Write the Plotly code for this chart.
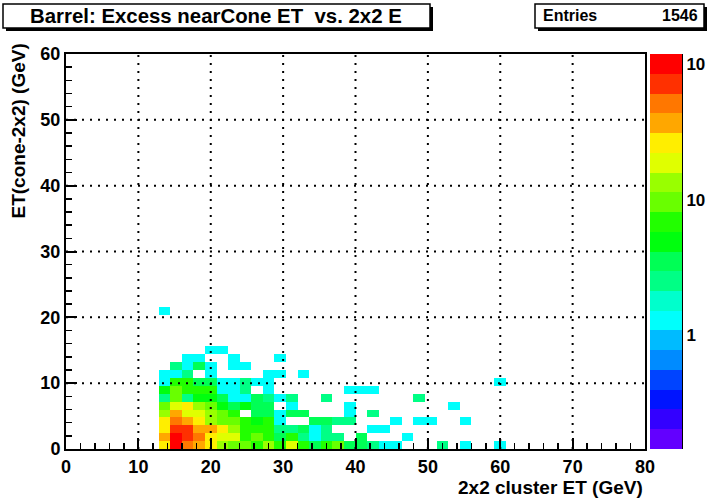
import numpy as np
import plotly.graph_objects as go

W, H = 711, 500

# ---- histogram binning (TH2: 50 x 50 bins) ----
x_lo, x_hi, n_x = 0, 80, 50
y_lo, y_hi, n_y = 0, 60, 50
first_col = 8          # first x bin index listed in the row arrays below

# ---- bin contents, one list per y bin (x bins 8..39) ----
row_00 = [25, 95, 48, 35, 25, 13, 9, 9, 7, 13, 7, 18, 7, 3, 7, 9, 3, 3, 2, 1, 1, 0, 0, 0, 2, 0, 1, 0, 0, 1, 0, 0]
row_01 = [35, 95, 68, 48, 25, 18, 18, 7, 8, 7, 3, 7, 2, 1, 2, 2, 0, 3, 0, 0, 0, 1, 0, 0, 0, 0, 0, 0, 0, 0, 0, 0]
row_02 = [25, 68, 68, 35, 35, 25, 13, 7, 7, 7, 2, 2, 3, 1, 2, 0, 0, 0, 1, 1, 0, 0, 0, 0, 0, 0, 0, 0, 0, 0, 0, 0]
row_03 = [25, 48, 35, 25, 13, 9, 9, 7, 5, 7, 1, 0, 0, 3, 3, 2, 2, 0, 0, 0, 1, 0, 1, 1, 0, 0, 1, 0, 0, 0, 0, 0]
row_04 = [13, 35, 18, 18, 13, 9, 7, 0, 3, 3, 1, 3, 3, 0, 0, 0, 1, 0, 2, 0, 0, 0, 0, 0, 0, 0, 0, 0, 0, 0, 0, 0]
row_05 = [9, 18, 25, 13, 9, 5, 3, 5, 3, 3, 0, 1, 0, 0, 0, 0, 1, 0, 0, 0, 0, 0, 0, 0, 0, 1, 0, 0, 0, 0, 0, 0]
row_06 = [2, 9, 2, 5, 5, 3, 1, 1, 3, 2, 1, 2, 0, 0, 2, 0, 0, 0, 0, 0, 0, 0, 2, 0, 0, 0, 0, 0, 0, 0, 0, 0]
row_07 = [5, 9, 7, 7, 7, 1, 1, 2, 0, 1, 0, 0, 0, 0, 0, 0, 1, 1, 1, 0, 0, 0, 0, 0, 0, 0, 0, 0, 0, 0, 0, 0]
row_08 = [1, 7, 7, 3, 3, 1, 1, 2, 1, 1, 0, 0, 0, 0, 0, 0, 0, 0, 0, 0, 0, 0, 0, 0, 0, 0, 0, 0, 0, 1, 0, 0]
row_09 = [1, 1, 2, 0, 1, 0, 0, 0, 0, 1, 1, 0, 1, 0, 0, 0, 0, 0, 0, 0, 0, 0, 0, 0, 0, 0, 0, 0, 0, 0, 0, 0]
row_10 = [0, 2, 1, 3, 1, 0, 1, 1, 0, 0, 0, 0, 0, 0, 0, 0, 0, 0, 0, 0, 0, 0, 0, 0, 0, 0, 0, 0, 0, 0, 0, 0]
row_11 = [0, 0, 1, 1, 0, 0, 1, 0, 0, 0, 1, 0, 0, 0, 0, 0, 0, 0, 0, 0, 0, 0, 0, 0, 0, 0, 0, 0, 0, 0, 0, 0]
row_12 = [0, 0, 0, 0, 1, 1, 0, 0, 0, 0, 0, 0, 0, 0, 0, 0, 0, 0, 0, 0, 0, 0, 0, 0, 0, 0, 0, 0, 0, 0, 0, 0]
row_17 = [1, 0, 0, 0, 0, 0, 0, 0, 0, 0, 0, 0, 0, 0, 0, 0, 0, 0, 0, 0, 0, 0, 0, 0, 0, 0, 0, 0, 0, 0, 0, 0]

rows = {0: row_00, 1: row_01, 2: row_02, 3: row_03, 4: row_04, 5: row_05, 6: row_06,
        7: row_07, 8: row_08, 9: row_09, 10: row_10, 11: row_11, 12: row_12, 17: row_17}

# ---- text ----
title_text = "Barrel: Excess nearCone ET\u00a0\u00a0vs. 2x2 E"
entries_label = "Entries"
entries_value = "1546"
x_title = "2x2 cluster ET (GeV)"
y_title = "ET(cone-2x2) (GeV)"
x_ticks = [0, 10, 20, 30, 40, 50, 60, 70, 80]
y_ticks = [0, 10, 20, 30, 40, 50, 60]
z_ticks = [1, 10, 100]
z_ticktext = ["1", "10", "10"]
z_minor = [0.2, 0.3, 0.4, 0.5, 0.6, 0.7, 0.8, 0.9, 2, 3, 4, 5, 6, 7, 8, 9,
           20, 30, 40, 50, 60, 70, 80, 90]

# ROOT "pretty palette", 20 contour bands (bottom -> top)
band_colors = ["#6300ff", "#3300ff", "#0014ff", "#0044ff", "#008bff", "#00bbff",
               "#00fffc", "#00ffcc", "#00ff85", "#00ff55", "#00ff0e", "#22ff00",
               "#69ff00", "#99ff00", "#e0ff00", "#ffee00", "#ffa700", "#ff7700",
               "#ff3000", "#ff0000"]
z_log_min, band_width = -0.88, 0.146
z_log_max = z_log_min + band_width * len(band_colors)

# ---- assemble histogram ----
z = np.full((n_y, n_x), np.nan)
for j, vals in rows.items():
    for k, c in enumerate(vals):
        if c > 0:
            z[j, first_col + k] = np.log10(c)
x_edges = np.linspace(x_lo, x_hi, n_x + 1)
y_edges = np.linspace(y_lo, y_hi, n_y + 1)

colorscale = []
nb = len(band_colors)
for i, c in enumerate(band_colors):
    colorscale.append([i / nb, c])
    colorscale.append([(i + 1) / nb, c])

# ---- layout geometry (pixels) ----
L, R, T, B = 66, 28, 54, 51
plot_w = W - L - R
plot_h = H - T - B
frame_right = 645
cbar_left, cbar_right = 650, 682

def px(xp):
    return (xp - L) / plot_w

def py(yp):
    return (H - B - yp) / plot_h

FONT = "Liberation Sans"
black = "black"

fig = go.Figure()
fig.add_trace(go.Heatmap(
    x=x_edges, y=y_edges, z=z,
    zmin=z_log_min, zmax=z_log_max,
    colorscale=colorscale,
    hoverinfo="skip",
    colorbar=dict(
        x=px(cbar_left), xanchor="left", thickness=cbar_right - cbar_left,
        thicknessmode="pixels", len=1, lenmode="fraction", y=0.5, yanchor="middle",
        ypad=0, xpad=0, outlinewidth=0, ticks="", showticklabels=False,
    ),
))
# invisible trace to host the colour-bar axis
fig.add_trace(go.Scatter(x=[None], y=[None], xaxis="x", yaxis="y2",
                         showlegend=False, hoverinfo="skip"))

tick_font = dict(family=FONT, size=18, color=black, weight="bold")

fig.update_layout(
    width=W, height=H, autosize=False,
    margin=dict(l=L, r=R, t=T, b=B, autoexpand=False),
    paper_bgcolor="white", plot_bgcolor="white",
    showlegend=False,
    xaxis=dict(
        domain=[0, px(frame_right)], range=[x_lo, x_hi],
        tickmode="array", tickvals=x_ticks, ticks="inside", ticklen=11, tickwidth=2,
        tickcolor=black, tickfont=tick_font,
        minor=dict(dtick=2, tick0=0, ticks="inside", ticklen=6, tickwidth=1.5, tickcolor=black),
        showgrid=False, zeroline=False, showline=True, mirror=True,
        linecolor=black, linewidth=2, fixedrange=True,
    ),
    yaxis=dict(
        domain=[0, 1], range=[y_lo, y_hi],
        tickmode="array", tickvals=y_ticks, ticks="inside", ticklen=11, tickwidth=2,
        tickcolor=black, tickfont=tick_font,
        minor=dict(dtick=2, tick0=0, ticks="inside", ticklen=6, tickwidth=1.5, tickcolor=black),
        showgrid=False, zeroline=False, showline=True, mirror=True,
        linecolor=black, linewidth=2, fixedrange=True,
    ),
    yaxis2=dict(
        overlaying="y", anchor="free", position=px(cbar_right), side="right",
        type="log", range=[z_log_min, z_log_max],
        tickmode="array", tickvals=z_ticks, ticktext=z_ticktext,
        ticks="inside", ticklen=16, tickwidth=1.5, tickcolor=black,
        tickfont=dict(family=FONT, size=17, color=black, weight="bold"),
        ticklabelshift=5,
        minor=dict(tickmode="array", tickvals=z_minor, ticks="inside", ticklen=8,
                   tickwidth=1.5, tickcolor=black),
        showgrid=False, zeroline=False, showline=True, linecolor=black, linewidth=1,
        fixedrange=True,
    ),
)

shapes = []
# dotted grid drawn above the cells (ROOT style)
for gx in x_ticks[1:-1]:
    shapes.append(dict(type="line", xref="x", yref="y", x0=gx, x1=gx, y0=y_lo, y1=y_hi,
                       line=dict(color=black, width=2, dash="2px,6px"), layer="above"))
for gy in y_ticks[1:-1]:
    shapes.append(dict(type="line", xref="x", yref="y", x0=x_lo, x1=x_hi, y0=gy, y1=gy,
                       line=dict(color=black, width=2, dash="2px,6px"), layer="above"))

def pave(x0, y0, x1, y1):
    # shadow then box
    shapes.append(dict(type="rect", xref="paper", yref="paper",
                       x0=px(x0 + 3), x1=px(x1 + 3), y0=py(y1 + 3), y1=py(y0 + 3),
                       fillcolor=black, line=dict(width=0), layer="above"))
    shapes.append(dict(type="rect", xref="paper", yref="paper",
                       x0=px(x0), x1=px(x1), y0=py(y1), y1=py(y0),
                       fillcolor="white", line=dict(color=black, width=1.5), layer="above"))

pave(3, 4, 430, 28)
pave(535, 4, 704, 28)
fig.update_layout(shapes=shapes)

title_font = dict(family=FONT, size=19, color=black, weight="bold")
fig.add_annotation(x=px(216), y=py(16), xref="paper", yref="paper", text=title_text,
                   showarrow=False, xanchor="center", yanchor="middle",
                   font=dict(family=FONT, size=20.4, color=black, weight="bold"))
fig.add_annotation(x=px(541), y=py(16), xref="paper", yref="paper", text=entries_label,
                   showarrow=False, xanchor="left", yanchor="middle",
                   font=dict(family=FONT, size=16, color=black, weight="bold"))
fig.add_annotation(x=px(700), y=py(16), xref="paper", yref="paper", text=entries_value,
                   showarrow=False, xanchor="right", yanchor="middle",
                   font=dict(family=FONT, size=16, color=black, weight="bold"))
fig.add_annotation(x=px(frame_right), y=py(487), xref="paper", yref="paper", text=x_title,
                   showarrow=False, xanchor="right", yanchor="middle", font=title_font)
fig.add_annotation(x=px(18), y=py(42), xref="paper", yref="paper", text=y_title,
                   showarrow=False, xanchor="center", yanchor="top", textangle=-90,
                   font=title_font)

fig.write_html(
    "out.html",
    config={"displayModeBar": False, "responsive": False, "staticPlot": True},
    post_script="document.body.style.margin='0px';document.body.style.overflow='hidden';",
)
